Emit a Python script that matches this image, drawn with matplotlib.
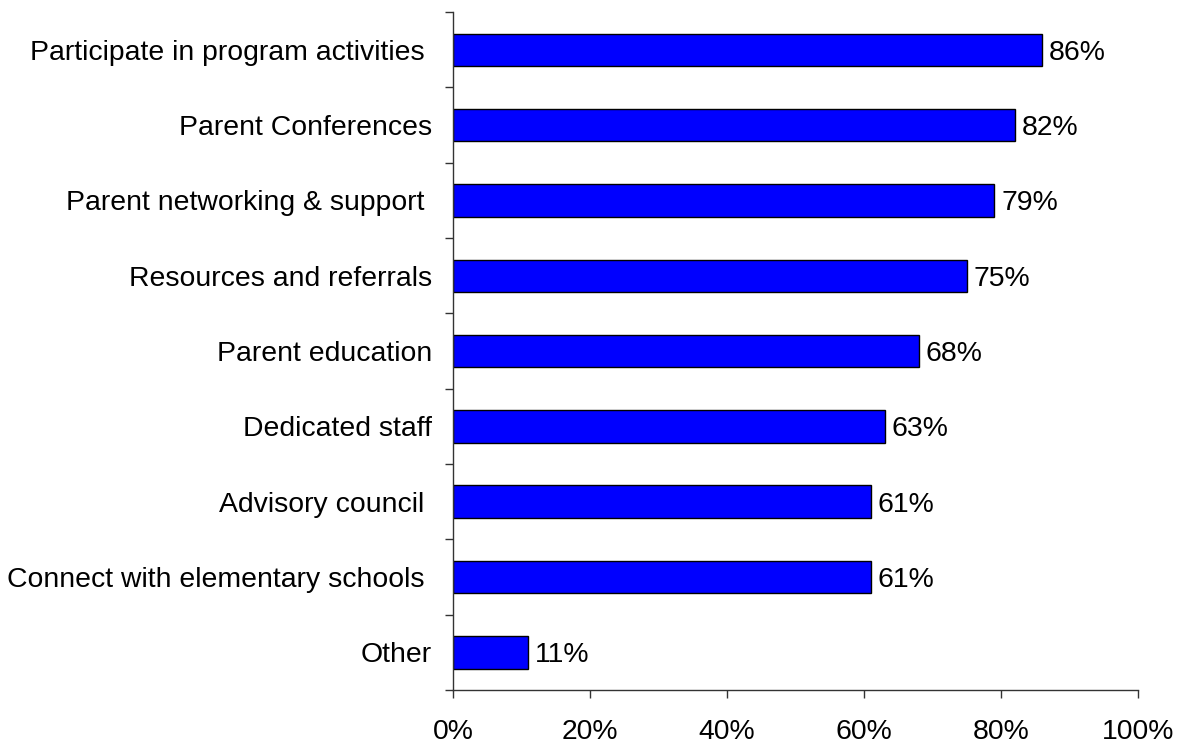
import matplotlib
matplotlib.use("Agg")
import matplotlib.pyplot as plt
from matplotlib.ticker import FixedLocator, PercentFormatter

categories = [
    "Participate in program activities ",
    "Parent Conferences",
    "Parent networking & support ",
    "Resources and referrals",
    "Parent education",
    "Dedicated staff",
    "Advisory council ",
    "Connect with elementary schools ",
    "Other",
]
values = [86, 82, 79, 75, 68, 63, 61, 61, 11]
x_ticks = [0, 20, 40, 60, 80, 100]

plt.rcParams["font.family"] = ["Liberation Sans", "DejaVu Sans"]
FS = 20.4

fig = plt.figure(figsize=(11.82, 7.43), dpi=100)
ax = fig.add_axes([0.3832, 0.0713, 0.9628 - 0.3832, 0.9838 - 0.0713])

n = len(categories)
ypos = list(range(n))
ax.barh(ypos, values, height=0.43, color="#0000FF",
        edgecolor="black", linewidth=1.0)

for y, v in zip(ypos, values):
    ax.text(v + 1.0, y, f"{v}%", va="center_baseline", ha="left", fontsize=FS)

ax.set_xlim(0, 100)
ax.set_ylim(n - 0.5, -0.5)

ax.set_yticks(ypos)
ax.set_yticklabels(categories, fontsize=FS)
ax.tick_params(axis="y", which="major", length=0, pad=15)
ax.yaxis.set_minor_locator(FixedLocator([i - 0.5 for i in range(n + 1)]))
ax.tick_params(axis="y", which="minor", length=5.8, width=1, color="#333333",
               direction="out")

ax.set_xticks(x_ticks)
ax.xaxis.set_major_formatter(PercentFormatter(decimals=0))
ax.tick_params(axis="x", length=5.8, width=1, color="#333333",
               direction="out", labelsize=FS, pad=15)

for side in ("top", "right"):
    ax.spines[side].set_visible(False)
for side in ("left", "bottom"):
    ax.spines[side].set_color("#333333")
    ax.spines[side].set_linewidth(1.0)

fig.savefig("out.png", dpi=100)
